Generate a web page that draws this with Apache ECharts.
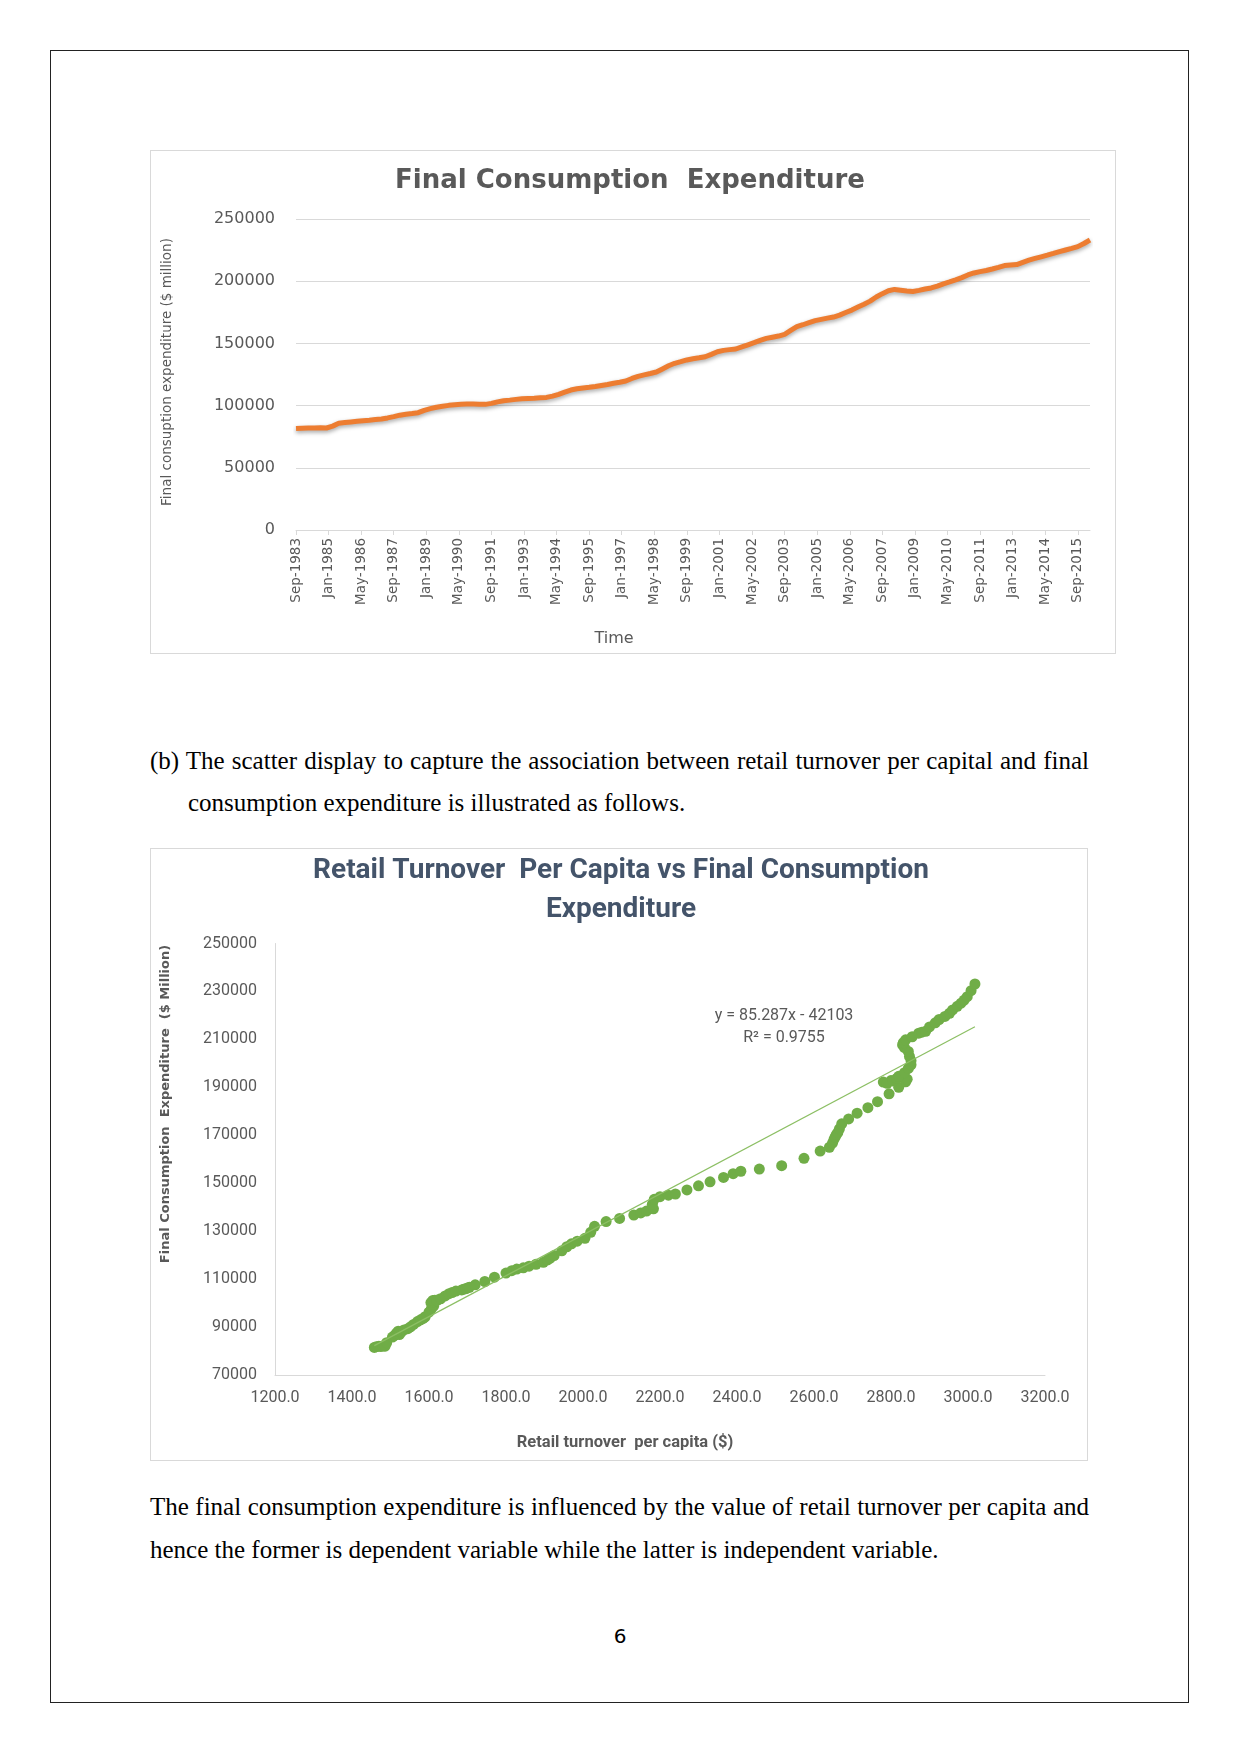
<!DOCTYPE html>
<html>
<head>
<meta charset="utf-8">
<script src="https://cdn.jsdelivr.net/npm/echarts@6/dist/echarts.min.js"></script>
<style>
  html, body { margin:0; padding:0; background:#fff; }
  body { width:1241px; height:1754px; position:relative; overflow:hidden; }
  .abs { position:absolute; }
  .pageborder { left:50px; top:50px; width:1139px; height:1653px; border:1px solid #222; box-sizing:border-box; }
  .cbox { border:1px solid #d9d9d9; box-sizing:border-box; pointer-events:none; }
  .para { font-family:"Liberation Serif", "Times New Roman", serif; font-size:25px; color:#000; white-space:nowrap; line-height:42px; }
  .just { text-align:justify; text-align-last:justify; }
</style>
</head>
<body>
<div class="abs pageborder"></div>

<div id="c1" class="abs" style="left:150px;top:150px;width:966px;height:504px;"></div>
<div class="abs cbox" style="left:150px;top:150px;width:966px;height:504px;"></div>

<div class="abs para just" style="left:150px;top:740px;width:939px;">(b) The scatter display to capture the association between retail turnover per capital and final</div>
<div class="abs para" style="left:188px;top:782px;">consumption expenditure is illustrated as follows.</div>

<div id="c2" class="abs" style="left:150px;top:848px;width:938px;height:613px;"></div>
<div class="abs cbox" style="left:150px;top:848px;width:938px;height:613px;"></div>

<div class="abs para just" style="left:150px;top:1486px;width:939px;">The final consumption expenditure is influenced by the value of retail turnover per capita and</div>
<div class="abs para" style="left:150px;top:1529px;">hence the former is dependent variable while the latter is independent variable.</div>

<div class="abs" style="left:600px;top:1624px;width:40px;text-align:center;font-family:'DejaVu Sans',sans-serif;font-size:20px;color:#000;">6</div>

<script>
// ---- Data ----
const xTickLabels = ['Sep-1983','Jan-1985','May-1986','Sep-1987','Jan-1989','May-1990','Sep-1991','Jan-1993','May-1994','Sep-1995','Jan-1997','May-1998','Sep-1999','Jan-2001','May-2002','Sep-2003','Jan-2005','May-2006','Sep-2007','Jan-2009','May-2010','Sep-2011','Jan-2013','May-2014','Sep-2015'];

// Final consumption expenditure ($ million), quarterly from Sep-1983
const fce = [81500,81800,82000,81900,82100,82000,83500,85800,86400,86900,
 87400,87900,88300,88800,89300,90100,91100,92300,93000,93600,
 94300,96200,97600,98700,99500,100200,100600,101000,101300,101200,
 101100,101000,101800,103000,103900,104400,105000,105500,105800,106000,
 106300,106600,107600,109000,110800,112500,113500,114200,114700,115400,
 116200,117000,118000,118800,119800,121800,123500,124700,125800,127000,
 129500,132000,134000,135300,136700,137600,138400,139300,141200,143300,
 144400,145000,145500,147200,148900,150600,152400,154000,155000,155900,
 157300,160400,163400,165000,166700,168300,169300,170300,171200,172700,
 174800,176800,179200,181500,184000,187300,190000,192300,193400,192800,
 192200,191700,192600,193700,194600,196100,197900,199400,201100,202900,
 205000,206600,207700,208600,209800,211100,212600,213000,213400,215200,
 216900,218300,219600,220900,222300,223800,225100,226400,227800,230300,
 233100];

// Retail turnover per capita ($), same quarters
const retailPerCapita = [1458,1463,1470,1475,1480,1486,1490,1505,1510,1523,
 1515,1528,1520,1535,1545,1552,1560,1570,1578,1585,
 1590,1600,1606,1612,1610,1605,1612,1618,1622,1615,
 1610,1620,1630,1642,1652,1660,1670,1685,1690,1696,
 1700,1705,1720,1745,1770,1800,1815,1828,1845,1860,
 1878,1897,1908,1915,1925,1945,1958,1970,1985,2005,
 2020,2030,2060,2095,2132,2150,2165,2183,2180,2185,
 2200,2222,2240,2270,2300,2330,2365,2390,2410,2458,
 2516,2574,2616,2640,2648,2652,2655,2658,2662,2666,
 2672,2690,2712,2740,2765,2795,2820,2838,2842,2800,
 2780,2790,2805,2815,2820,2835,2845,2852,2852,2848,
 2845,2835,2830,2832,2838,2855,2872,2880,2890,2900,
 2915,2925,2940,2952,2960,2972,2982,2990,2998,3008,
 3018];

const monthsPerQuarter = 3;
const trendSlope = 85.287;
const trendIntercept = -42103;
const trendLabel = 'y = 85.287x - 42103';
const r2Label = 'R² = 0.9755';

function plain(v){ return String(v); }

// ---- Chart 1 ----
const c1 = echarts.init(document.getElementById('c1'), null, {renderer:'canvas'});
c1.setOption({
  animation:false,
  grid:{left:146, top:69, width:794, height:311},
  xAxis:{
    type:'value', min:0, max:390, interval:16,
    axisLine:{show:true, lineStyle:{color:'#d9d9d9', width:1}},
    axisTick:{show:true, length:5, lineStyle:{color:'#d9d9d9'}},
    splitLine:{show:false},
    axisLabel:{rotate:90, color:'#595959', fontFamily:'DejaVu Sans', fontSize:13.5, margin:8,
      showMaxLabel:false,
      formatter:function(v){ return (v % 16 === 0 && xTickLabels[v/16]) ? xTickLabels[v/16] : ''; }}
  },
  yAxis:{
    type:'value', min:0, max:250000, interval:50000,
    axisLine:{show:false}, axisTick:{show:false},
    splitLine:{lineStyle:{color:'#d9d9d9', width:1}},
    axisLabel:{color:'#595959', fontFamily:'DejaVu Sans', fontSize:16, margin:21, formatter:plain}
  },
  series:[{
    type:'line', showSymbol:false, smooth:false,
    data: fce.map(function(v,i){ return [i*monthsPerQuarter, v]; }),
    lineStyle:{color:'#ED7D31', width:5, shadowColor:'rgba(0,0,0,0.35)', shadowBlur:4, shadowOffsetY:2}
  }],
  graphic:[
    {type:'text', x:480, y:31, style:{text:'Final Consumption  Expenditure', font:'bold 26px "DejaVu Sans"', fill:'#595959', textAlign:'center', textVerticalAlign:'middle'}},
    {type:'text', x:17, y:222, rotation:Math.PI/2, style:{text:'Final consuption expenditure ($ million)', font:'13.5px "DejaVu Sans"', fill:'#595959', textAlign:'center', textVerticalAlign:'middle'}},
    {type:'text', x:464, y:489, style:{text:'Time', font:'16px "DejaVu Sans"', fill:'#595959', textAlign:'center', textVerticalAlign:'middle'}}
  ]
});

// ---- Chart 2 ----
const scatterData = retailPerCapita.map(function(x,i){ return [x, fce[i]]; });
const xMin = Math.min.apply(null, retailPerCapita);
const xMax = Math.max.apply(null, retailPerCapita);
const trendData = [[xMin, trendSlope*xMin + trendIntercept],[xMax, trendSlope*xMax + trendIntercept]];

const c2 = echarts.init(document.getElementById('c2'), null, {renderer:'canvas'});
c2.setOption({
  animation:false,
  grid:{left:125, top:95.5, width:770, height:431.5},
  xAxis:{
    type:'value', min:1200, max:3200, interval:200,
    axisLine:{show:true, lineStyle:{color:'#d9d9d9', width:1}},
    axisTick:{show:false}, splitLine:{show:false},
    axisLabel:{color:'#595959', fontFamily:'Roboto', fontSize:16, margin:15,
      formatter:function(v){ return v.toFixed(1); }}
  },
  yAxis:{
    type:'value', min:70000, max:250000, interval:20000,
    axisLine:{show:true, lineStyle:{color:'#d9d9d9', width:1}},
    axisTick:{show:false}, splitLine:{show:false},
    axisLabel:{color:'#595959', fontFamily:'Roboto', fontSize:16, margin:18, formatter:plain}
  },
  series:[
    {type:'scatter', data:scatterData, symbol:'circle', symbolSize:11,
     itemStyle:{color:'#70AD47', opacity:1}, z:2},
    {type:'line', data:trendData, showSymbol:false, silent:true,
     lineStyle:{color:'#8CBF64', width:1.2}, z:3}
  ],
  graphic:[
    {type:'text', x:471, y:23, style:{text:'Retail Turnover  Per Capita vs Final Consumption', font:'bold 28px Roboto', fill:'#44546A', textAlign:'center', textVerticalAlign:'middle'}},
    {type:'text', x:471, y:62, style:{text:'Expenditure', font:'bold 28px Roboto', fill:'#44546A', textAlign:'center', textVerticalAlign:'middle'}},
    {type:'text', x:16, y:256, rotation:Math.PI/2, style:{text:'Final Consumption  Expenditure  ($ Million)', font:'bold 13px "DejaVu Sans"', fill:'#595959', textAlign:'center', textVerticalAlign:'middle'}},
    {type:'text', x:475, y:595, style:{text:'Retail turnover  per capita ($)', font:'bold 16.5px Roboto', fill:'#595959', textAlign:'center', textVerticalAlign:'middle'}},
    {type:'text', x:634, y:168, style:{text:trendLabel, font:'16px Roboto', fill:'#595959', textAlign:'center', textVerticalAlign:'middle'}},
    {type:'text', x:634, y:190, style:{text:r2Label, font:'16px Roboto', fill:'#595959', textAlign:'center', textVerticalAlign:'middle'}}
  ]
});
</script>
</body>
</html>
